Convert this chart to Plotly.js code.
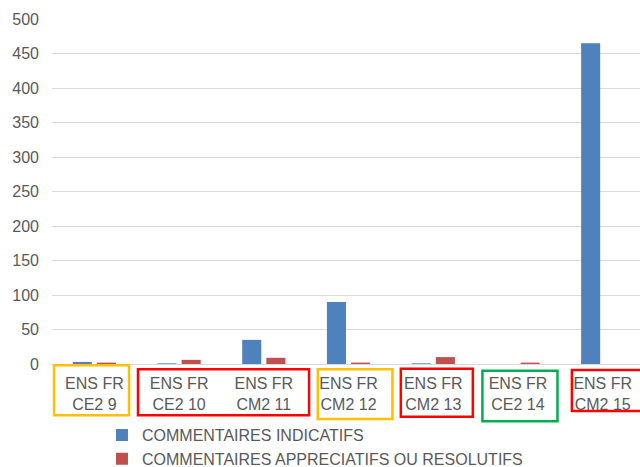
<!DOCTYPE html>
<html>
<head>
<meta charset="utf-8">
<script src="https://cdn.plot.ly/plotly-3.0.1.min.js"></script>
<style>
  html, body { margin: 0; padding: 0; background: #fff; overflow: hidden; }
  #chart { width: 640px; height: 467px; }
</style>
</head>
<body>
<div id="chart"></div>
<script>
const categories = [
  "ENS FR<br>CE2 9",
  "ENS FR<br>CE2 10",
  "ENS FR<br>CM2 11",
  "ENS FR<br>CM2 12",
  "ENS FR<br>CM2 13",
  "ENS FR<br>CE2 14",
  "ENS FR<br>CM2 15"
];
const indicatifs = [3, 1, 35, 90, 1, 0, 465];
const appreciatifs = [2, 6, 9, 2, 10, 2, 0];
const seriesNames = ["COMMENTAIRES INDICATIFS", "COMMENTAIRES APPRECIATIFS OU RESOLUTIFS"];
const yTicks = [0, 50, 100, 150, 200, 250, 300, 350, 400, 450, 500];

const FONT = "Liberation Sans, Arial, sans-serif";
const GREY = "#595959";

const traces = [
  { type: "bar", name: seriesNames[0], x: categories, y: indicatifs, marker: { color: "#4F81BD" } },
  { type: "bar", name: seriesNames[1], x: categories, y: appreciatifs, marker: { color: "#C0504D" } }
];

function box(x0, x1, y0, y1, color) {
  return { type: "rect", xref: "x", yref: "paper", x0: x0, x1: x1, y0: y0, y1: y1,
           line: { color: color, width: 2.5 }, fillcolor: "rgba(0,0,0,0)", layer: "above" };
}

const layout = {
  width: 640, height: 467,
  margin: { l: 52, r: 0, t: 19, b: 103, autoexpand: false },
  paper_bgcolor: "#ffffff", plot_bgcolor: "#ffffff",
  font: { family: FONT, size: 16, color: GREY },
  barmode: "group", bargap: 0.43, bargroupgap: 0.21,
  showlegend: true,
  legend: { orientation: "v", x: 0.085, xanchor: "left", y: -0.157, yanchor: "top",
            font: { family: FONT, size: 16, color: GREY }, bgcolor: "rgba(0,0,0,0)" },
  xaxis: { type: "category", range: [-0.5, 6.44], showgrid: false, zeroline: false, showline: false,
           ticks: "", tickfont: { family: FONT, size: 16, color: GREY }, ticklabelstandoff: 8, fixedrange: true },
  yaxis: { range: [0, 500], tickvals: yTicks, ticktext: yTicks.map(String), showgrid: true, gridcolor: "#D9D9D9", gridwidth: 1,
           zeroline: true, zerolinecolor: "#D9D9D9", zerolinewidth: 1, showline: false, ticks: "",
           tickfont: { family: FONT, size: 16, color: GREY }, ticklabelstandoff: 12, fixedrange: true },
  shapes: [
    box(-0.476, 0.409, -0.1487, -0.0038, "#FFC000"),
    box(0.515, 2.534, -0.1487, -0.0154, "#FF0000"),
    box(2.637, 3.518, -0.1594, -0.0154, "#FFC000"),
    box(3.617, 4.467, -0.1528, -0.0136, "#FF0000"),
    box(4.580, 5.466, -0.1661, -0.0194, "#00B050"),
    box(5.636, 6.60, -0.1362, -0.0174, "#FF0000")
  ]
};

Plotly.newPlot("chart", traces, layout, { staticPlot: true, displayModeBar: false });
</script>
</body>
</html>
